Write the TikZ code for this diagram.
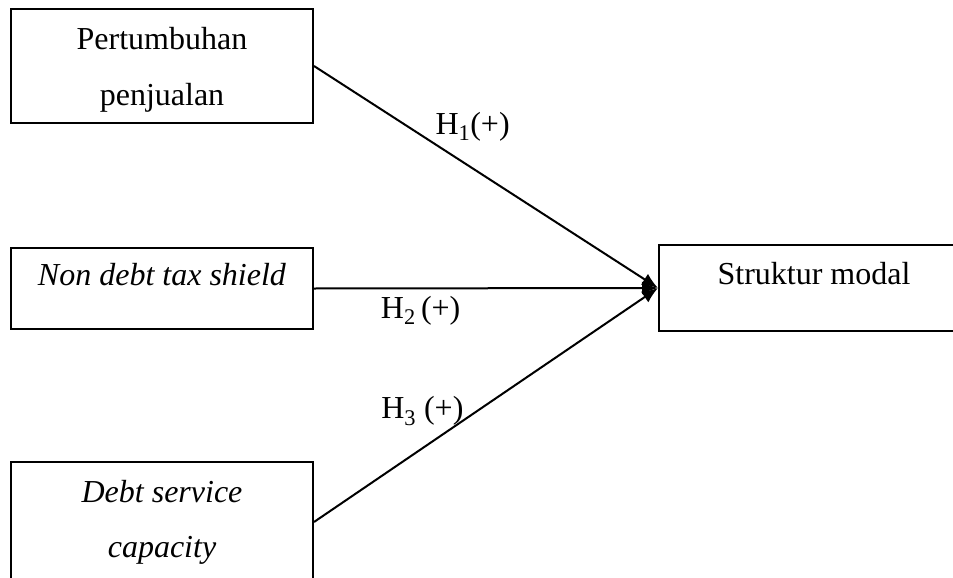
\documentclass[tikz,border=0pt]{standalone}
\usepackage{fontspec}
\setmainfont{Liberation Serif}
\usetikzlibrary{arrows.meta}
\begin{document}
\begin{tikzpicture}[x=1pt,y=-1pt,
  line width=2pt,main node/.style={rectangle,draw,align=center,minimum width=302pt,font=\fontsize{32}{55}\selectfont},
  one line/.style={text height=22pt,text depth=29pt}]

  \useasboundingbox (0,0) rectangle (953,578);
  \clip (0,0) rectangle (953,578);

  \node[main node,minimum height=114pt,text height=85pt,text depth=7pt] (pp) at (162,66) {Pertumbuhan\\penjualan};
  \node[main node,one line,minimum height=81pt] (ndts) at (162,288.5) {\textit{Non debt tax shield}};
  \node[main node,minimum height=120pt] (dsc) at (162,522) {\textit{Debt service}\\\textit{capacity}};
  \node[main node,one line,minimum height=86pt,minimum width=310pt] (sm) at (814,288) {Struktur modal};

  \path[-{Latex[length=16pt,width=13pt]},every node/.style={font=\fontsize{32}{38}\selectfont}]
   (pp.east) edge node[pos=0.461,yshift=42pt] (h1) {H\textsubscript{1}(+)} (sm.west)
   (ndts.east) edge node[pos=0.31,yshift=-22.5pt] (h2) {H\textsubscript{2}\,(+)} (sm.west)
   (dsc.east) edge node[pos=0.315,yshift=37pt] (h3) {H\textsubscript{3} (+)} (sm.west);
\end{tikzpicture}
\end{document}
